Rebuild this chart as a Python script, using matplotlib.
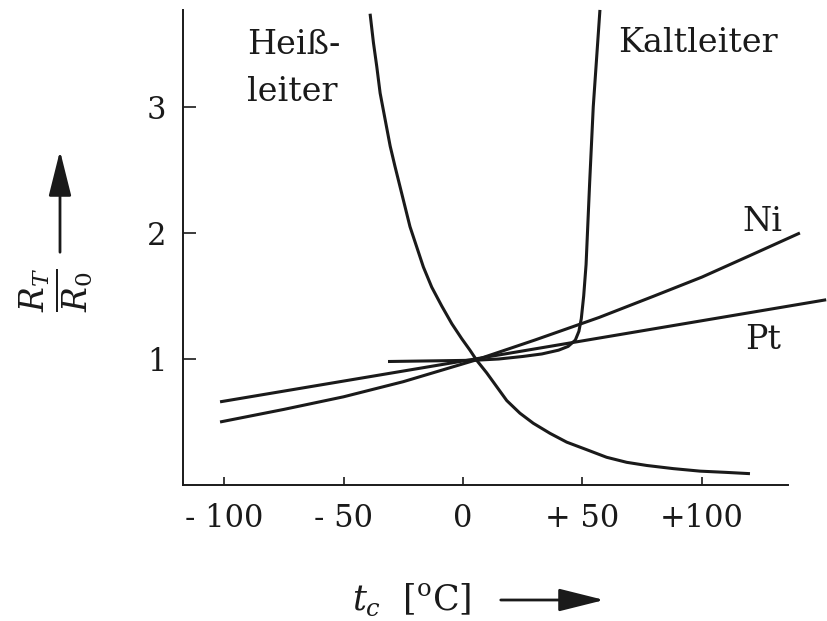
import numpy as np
import matplotlib
matplotlib.use('Agg')
from matplotlib import pyplot as plt

plt.rcParams['font.family'] = ['DejaVu Serif']
plt.rcParams['mathtext.fontset'] = 'dejavuserif'

# temperature t_c [degC] and resistance ratio R_T/R_0
ntc_t = [-38.9, -37.5, -36.1, -34.7, -32.6, -30.5, -28.5, -26.4, -24.3, -22.2, -19.4, -16.6,
         -13.1, -8.9, -4.7, -0.5, 2.9, 5.7, 9.9, 14.1, 18.3, 23.8, 29.4, 36.4, 43.4, 51.8,
         60.1, 68.5, 76.9, 88.0, 99.2, 110.3, 120.1]
ntc_r = [3.74, 3.51, 3.32, 3.11, 2.90, 2.69, 2.53, 2.37, 2.21, 2.05, 1.89, 1.73,
         1.57, 1.42, 1.28, 1.16, 1.07, 0.99, 0.89, 0.78, 0.67, 0.57, 0.49, 0.41, 0.34, 0.28,
         0.22, 0.18, 0.155, 0.13, 0.11, 0.10, 0.09]

ptc_t = [-31.4, 5.0, 15.0, 25.0, 33.0, 40.0, 44.0, 47.0, 48.5, 49.5, 50.5, 51.5, 53.0, 54.5, 57.3]
ptc_r = [0.98, 0.99, 1.00, 1.02, 1.04, 1.07, 1.10, 1.15, 1.22, 1.32, 1.50, 1.75, 2.40, 3.00, 3.77]

ni_t = [-101.7, -75.0, -50.0, -25.0, 5.0, 30.0, 57.0, 80.0, 100.0, 120.0, 141.0]
ni_r = [0.50, 0.60, 0.70, 0.82, 0.99, 1.15, 1.33, 1.50, 1.65, 1.82, 2.00]

pt_t = [-101.7, 5.0, 152.0]
pt_r = [0.66, 1.00, 1.47]

xticks = [-100, -50, 0, 50, 100]
xticklabels = ['- 100', '- 50', '0', '+ 50', '+100']
yticks = [1, 2, 3]

fig = plt.figure(figsize=(8.27, 6.21), dpi=100)
ax = fig.add_axes([0.2213, 0.219, 0.7315, 0.765])

lw = 2.2
col = '#1a1a1a'
for t, r in [(ntc_t, ntc_r), (ptc_t, ptc_r), (ni_t, ni_r), (pt_t, pt_r)]:
    ax.plot(t, r, color=col, lw=lw, clip_on=False, solid_capstyle='butt',
            solid_joinstyle='round')

ax.set_xlim(-117.2, 136)
ax.set_ylim(0, 3.77)

for s in ['top', 'right']:
    ax.spines[s].set_visible(False)
for s in ['left', 'bottom']:
    ax.spines[s].set_linewidth(1.4)
    ax.spines[s].set_color(col)

ax.set_xticks(xticks)
ax.set_xticklabels(xticklabels)
ax.set_yticks(yticks)
ax.tick_params(axis='x', direction='in', length=6, width=1.2, pad=13, labelsize=22, colors=col)
ax.tick_params(axis='y', direction='in', length=9, width=1.2, pad=12, labelsize=22, colors=col)

fs = 24
ax.text(-90.4, 3.49, 'Heiß-', fontsize=fs, va='center', ha='left', color=col)
ax.text(-90.4, 3.12, 'leiter', fontsize=fs, va='center', ha='left', color=col)
ax.text(64.9, 3.51, 'Kaltleiter', fontsize=fs, va='center', ha='left', color=col)
ax.text(117, 2.09, 'Ni', fontsize=fs, va='center', ha='left', color=col)
ax.text(118, 1.15, 'Pt', fontsize=fs, va='center', ha='left', color=col)

# axis labels with arrows (figure fraction coordinates)
arrow_style = '-|>,head_length=2.0,head_width=0.5'
fig.text(57 / 827, 1 - 290 / 621, r'$\frac{R_T}{R_0}$', rotation=90, fontsize=34,
         ha='center', va='center', color=col)
fig.add_artist(matplotlib.patches.FancyArrowPatch(
    (60 / 827, 1 - 255 / 621), (60 / 827, 1 - 148 / 621), transform=fig.transFigure,
    arrowstyle=arrow_style, mutation_scale=14, lw=2, color=col))

fig.text(412 / 827, 1 - 600 / 621, r'$t_c$  [$^\mathrm{o}$C]', fontsize=25,
         ha='center', va='center', color=col)
fig.add_artist(matplotlib.patches.FancyArrowPatch(
    (498 / 827, 1 - 600 / 621), (607 / 827, 1 - 600 / 621), transform=fig.transFigure,
    arrowstyle=arrow_style, mutation_scale=14, lw=2, color=col))

fig.savefig('out.png', dpi=100)
